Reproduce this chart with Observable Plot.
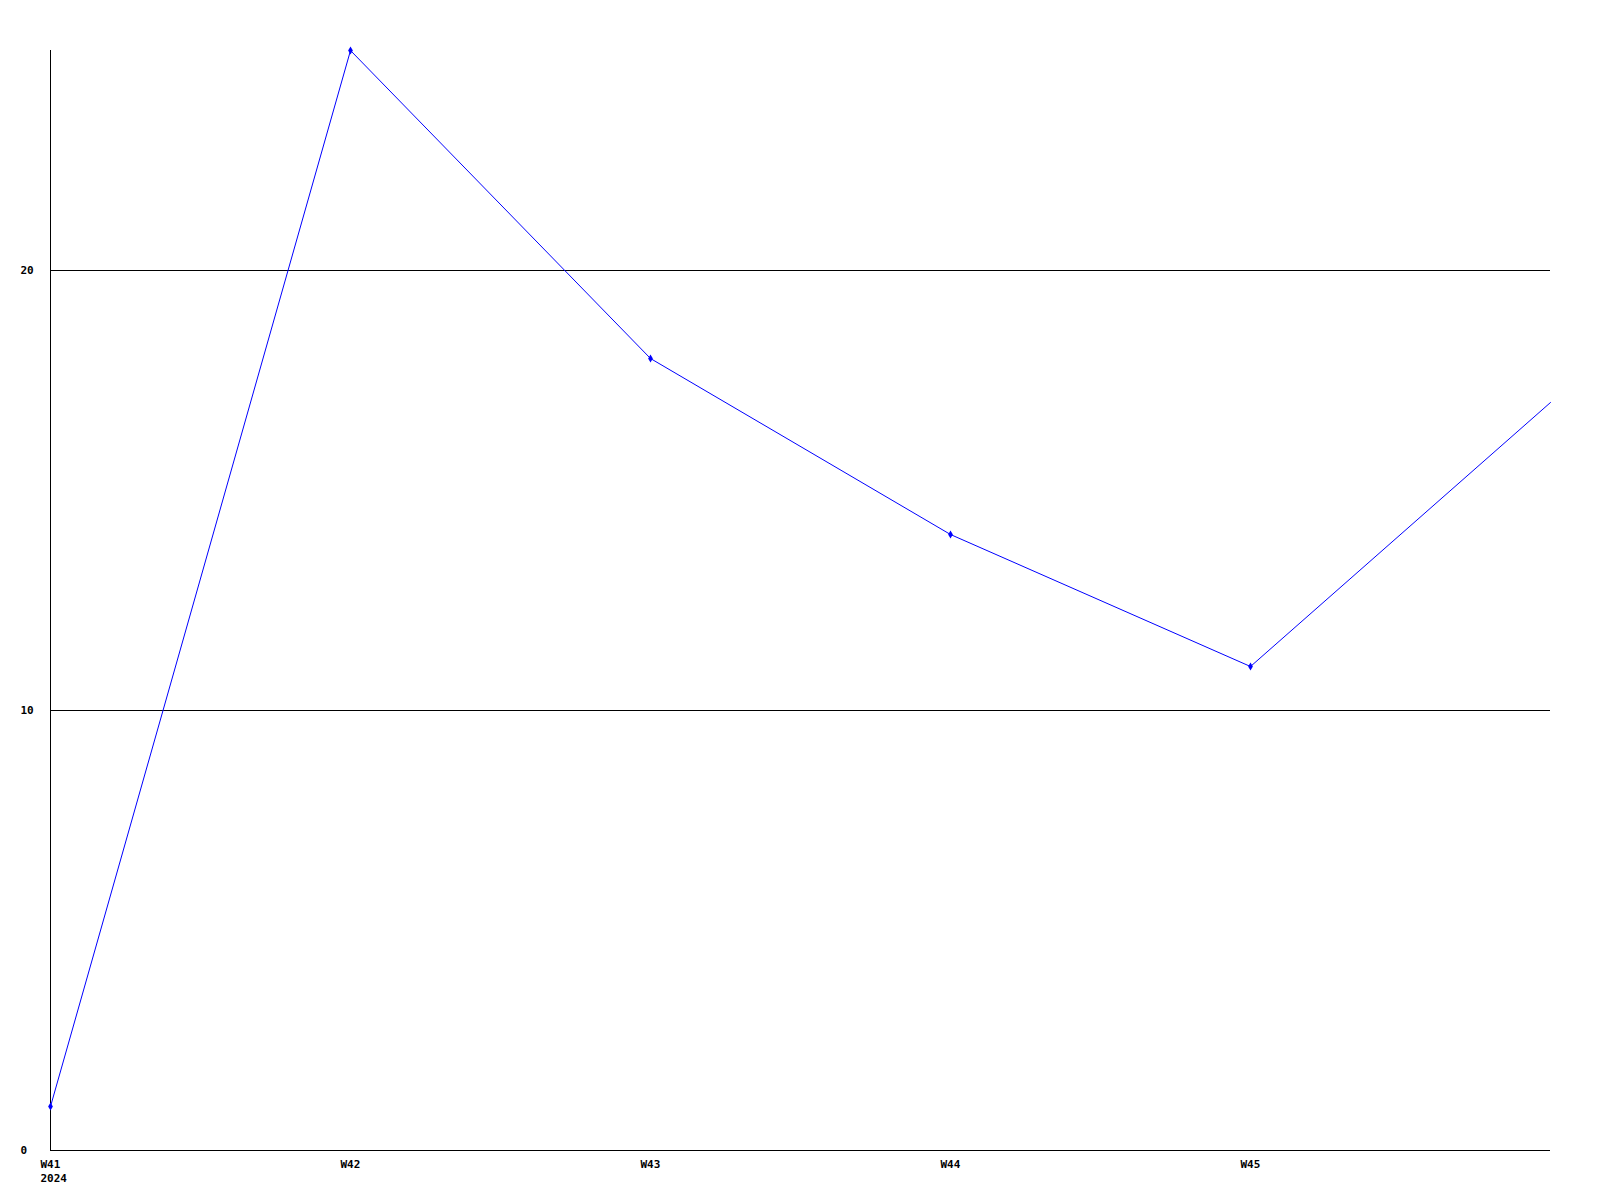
<!DOCTYPE html>
<html>
<head>
<meta charset="utf-8">
<script src="https://cdn.jsdelivr.net/npm/d3@7"></script>
<script src="https://cdn.jsdelivr.net/npm/@observablehq/plot@0.6"></script>
<style>
  html, body { margin: 0; padding: 0; background: #fff; }
  svg { display: block; }
</style>
</head>
<body>
<div id="chart"></div>
<script>
const weeks = ["W41", "W42", "W43", "W44", "W45", "W46"];
const values = [1, 25, 18, 14, 11, 17];
const firstYear = "2024";
const yTicks = [0, 10, 20];
const gridValues = [10, 20];

const data = weeks.map((w, i) => ({i, week: w, value: values[i]}));
const shownWeeks = data.slice(0, 5);

const chart = Plot.plot({
  width: 1600,
  height: 1200,
  marginLeft: 50,
  marginRight: 50,
  marginTop: 50,
  marginBottom: 50,
  style: {fontFamily: "'DejaVu Sans Mono', monospace", fontSize: "11px", fontWeight: "bold", background: "#fff", color: "#000"},
  x: {type: "linear", domain: [0, 5]},
  y: {domain: [0, 25]},
  marks: [
    Plot.ruleY(gridValues, {stroke: "#000", strokeWidth: 1, strokeOpacity: 1, shapeRendering: "crispEdges"}),
    Plot.ruleY([0], {stroke: "#000", strokeWidth: 1, shapeRendering: "crispEdges"}),
    Plot.ruleX([0], {stroke: "#000", strokeWidth: 1, shapeRendering: "crispEdges"}),
    Plot.axisY({ticks: yTicks, tickSize: 0, tickPadding: 30, textAnchor: "start", label: null, tickFormat: d => String(d)}),
    Plot.axisX({ticks: shownWeeks.map(d => d.i), tickSize: 0, tickPadding: 7, label: null, lineHeight: 1.3,
      textAnchor: "start", dx: -10,
      tickFormat: i => i === 0 ? weeks[i] + "\n" + firstYear : weeks[i]}),
    Plot.line(data, {x: "i", y: "value", stroke: "#0000ff", strokeWidth: 1}),
    Plot.dot(shownWeeks, {x: "i", y: "value", symbol: "diamond", r: 2.5, fill: "#0000ff", stroke: "none"})
  ]
});
document.getElementById("chart").appendChild(chart);
</script>
</body>
</html>
